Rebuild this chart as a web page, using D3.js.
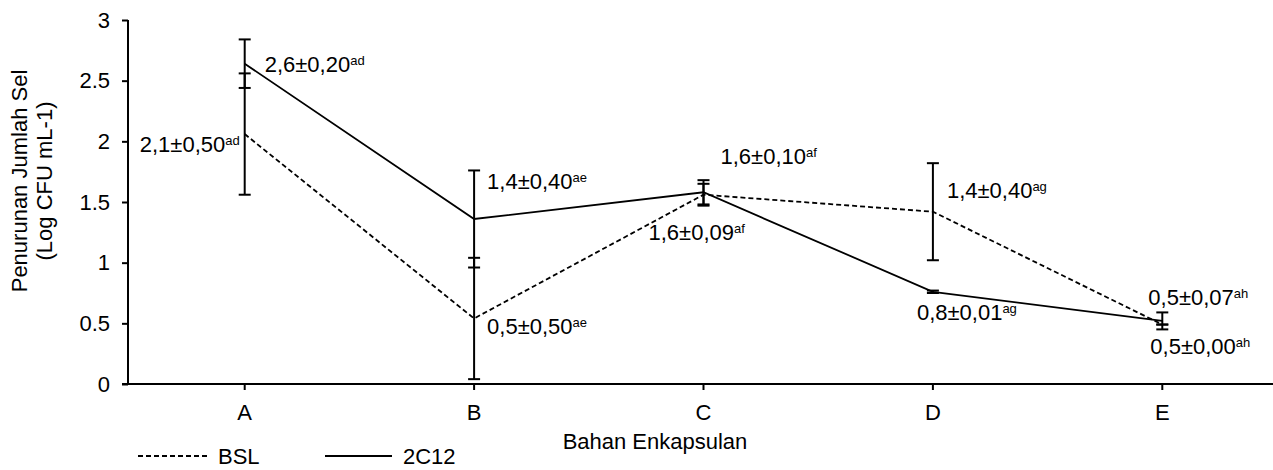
<!DOCTYPE html>
<html>
<head>
<meta charset="utf-8">
<script src="https://cdn.jsdelivr.net/npm/d3@7"></script>
<style>
  html, body { margin: 0; padding: 0; background: #fff; }
  svg { display: block; }
  text { font-family: "Liberation Sans", Arial, sans-serif; fill: #000; }
</style>
</head>
<body>
<svg id="chart" width="1273" height="470"></svg>
<script>
// Encapsulating materials on the x axis
const categories = ["A", "B", "C", "D", "E"];

// Decrease in cell count (log CFU/mL) per series, with standard deviations
const bslValues = [2.06, 0.54, 1.56, 1.42, 0.49];
const bslErrors = [0.50, 0.50, 0.09, 0.40, 0.00];
const bslLetters = ["ad", "ae", "af", "ag", "ah"];

const c12Values = [2.64, 1.36, 1.58, 0.76, 0.52];
const c12Errors = [0.20, 0.40, 0.10, 0.01, 0.07];
const c12Letters = ["ad", "ae", "af", "ag", "ah"];

const yTicks = [0, 0.5, 1, 1.5, 2, 2.5, 3];

const seriesNames = ["BSL", "2C12"];

// Where each value label sits relative to its point: [dx, dy, anchor]
const bslLabelPlace = [[-5, 18, "end"], [13, 16, "start"], [-55, 45, "start"], [14, -14, "start"], [-12, 29, "start"]];
const c12LabelPlace = [[20, 8, "start"], [13, -30, "start"], [17, -28, "start"], [-16, 28, "start"], [-14, -16, "start"]];

const svg = d3.select("#chart");
const plotLeft = 128, plotTop = 20, plotBottom = 384, plotRight = 1273;

const x = d3.scaleBand().domain(categories).range([130, 1277]).padding(0);
const y = d3.scaleLinear().domain([0, 3]).range([plotBottom, plotTop]);
const cx = c => x(c) + x.bandwidth() / 2;

const FS = 22;

// Y axis
const yAxis = svg.append("g").attr("transform", `translate(${plotLeft},0)`)
  .call(d3.axisLeft(y).tickValues(yTicks).tickSize(6).tickPadding(12).tickFormat(d3.format("")));
yAxis.select(".domain").attr("stroke", "#000").attr("stroke-width", 2).attr("d", `M0,${plotTop}H0V${plotBottom}`);
yAxis.selectAll(".tick line").attr("stroke", "#000").attr("stroke-width", 2);
yAxis.selectAll(".tick text").attr("font-size", FS).attr("font-family", "Liberation Sans, Arial, sans-serif").attr("fill", "#000");

// X axis
const xAxis = svg.append("g").attr("transform", `translate(0,${plotBottom})`)
  .call(d3.axisBottom(x).tickSize(6).tickPadding(14));
xAxis.select(".domain").attr("stroke", "#000").attr("stroke-width", 2).attr("d", `M${plotLeft - 6},0H${plotRight}`);
xAxis.selectAll(".tick line").attr("stroke", "#000").attr("stroke-width", 2);
xAxis.selectAll(".tick text").attr("font-size", FS).attr("font-family", "Liberation Sans, Arial, sans-serif").attr("fill", "#000");

// Axis titles
svg.append("text").attr("x", 655).attr("y", 449).attr("text-anchor", "middle")
  .attr("font-size", FS).text("Bahan Enkapsulan");
const yt = svg.append("text").attr("transform", "translate(27,181) rotate(-90)")
  .attr("text-anchor", "middle").attr("font-size", FS);
yt.append("tspan").attr("x", 0).attr("y", 0).text("Penurunan Jumlah Sel");
yt.append("tspan").attr("x", 0).attr("y", 25).text("(Log CFU mL-1)");

const line = d3.line().x((d, i) => cx(categories[i])).y(d => y(d));

const series = [
  { name: seriesNames[0], values: bslValues, errors: bslErrors, letters: bslLetters, place: bslLabelPlace, dash: "5,3" },
  { name: seriesNames[1], values: c12Values, errors: c12Errors, letters: c12Letters, place: c12LabelPlace, dash: null }
];

// Error bars
series.forEach(s => {
  const g = svg.append("g");
  s.values.forEach((v, i) => {
    const px = cx(categories[i]);
    const y1 = y(v + s.errors[i]), y0 = y(v - s.errors[i]);
    g.append("line").attr("x1", px).attr("x2", px).attr("y1", y1).attr("y2", y0)
      .attr("stroke", "#000").attr("stroke-width", 2);
    [y1, y0].forEach(yy => g.append("line").attr("x1", px - 6).attr("x2", px + 6)
      .attr("y1", yy).attr("y2", yy).attr("stroke", "#000").attr("stroke-width", 2));
  });
});

// Series lines
series.forEach(s => {
  svg.append("path").datum(s.values).attr("d", line)
    .attr("fill", "none").attr("stroke", "#000").attr("stroke-width", 1.8)
    .attr("stroke-dasharray", s.dash);
});

// Value labels: mean ± SD with superscript letters
const f1 = d3.format(".1f"), f2 = d3.format(".2f");
const comma = s => s.replace(".", ",");
series.forEach(s => {
  s.values.forEach((v, i) => {
    const [dx, dy, anchor] = s.place[i];
    const t = svg.append("text")
      .attr("x", cx(categories[i]) + dx).attr("y", y(v) + dy)
      .attr("text-anchor", anchor).attr("font-size", FS);
    t.append("tspan").text(comma(f1(v)) + "±" + comma(f2(s.errors[i])));
    t.append("tspan").attr("font-size", 13).attr("dy", -7).text(s.letters[i]);
  });
});

// Legend
const lg = svg.append("g");
lg.append("line").attr("x1", 138).attr("x2", 207).attr("y1", 456).attr("y2", 456)
  .attr("stroke", "#000").attr("stroke-width", 1.8).attr("stroke-dasharray", "5,3");
lg.append("text").attr("x", 218).attr("y", 464).attr("font-size", FS).text(seriesNames[0]);
lg.append("line").attr("x1", 325).attr("x2", 392).attr("y1", 456).attr("y2", 456)
  .attr("stroke", "#000").attr("stroke-width", 1.8);
lg.append("text").attr("x", 403).attr("y", 464).attr("font-size", FS).text(seriesNames[1]);
</script>
</body>
</html>
